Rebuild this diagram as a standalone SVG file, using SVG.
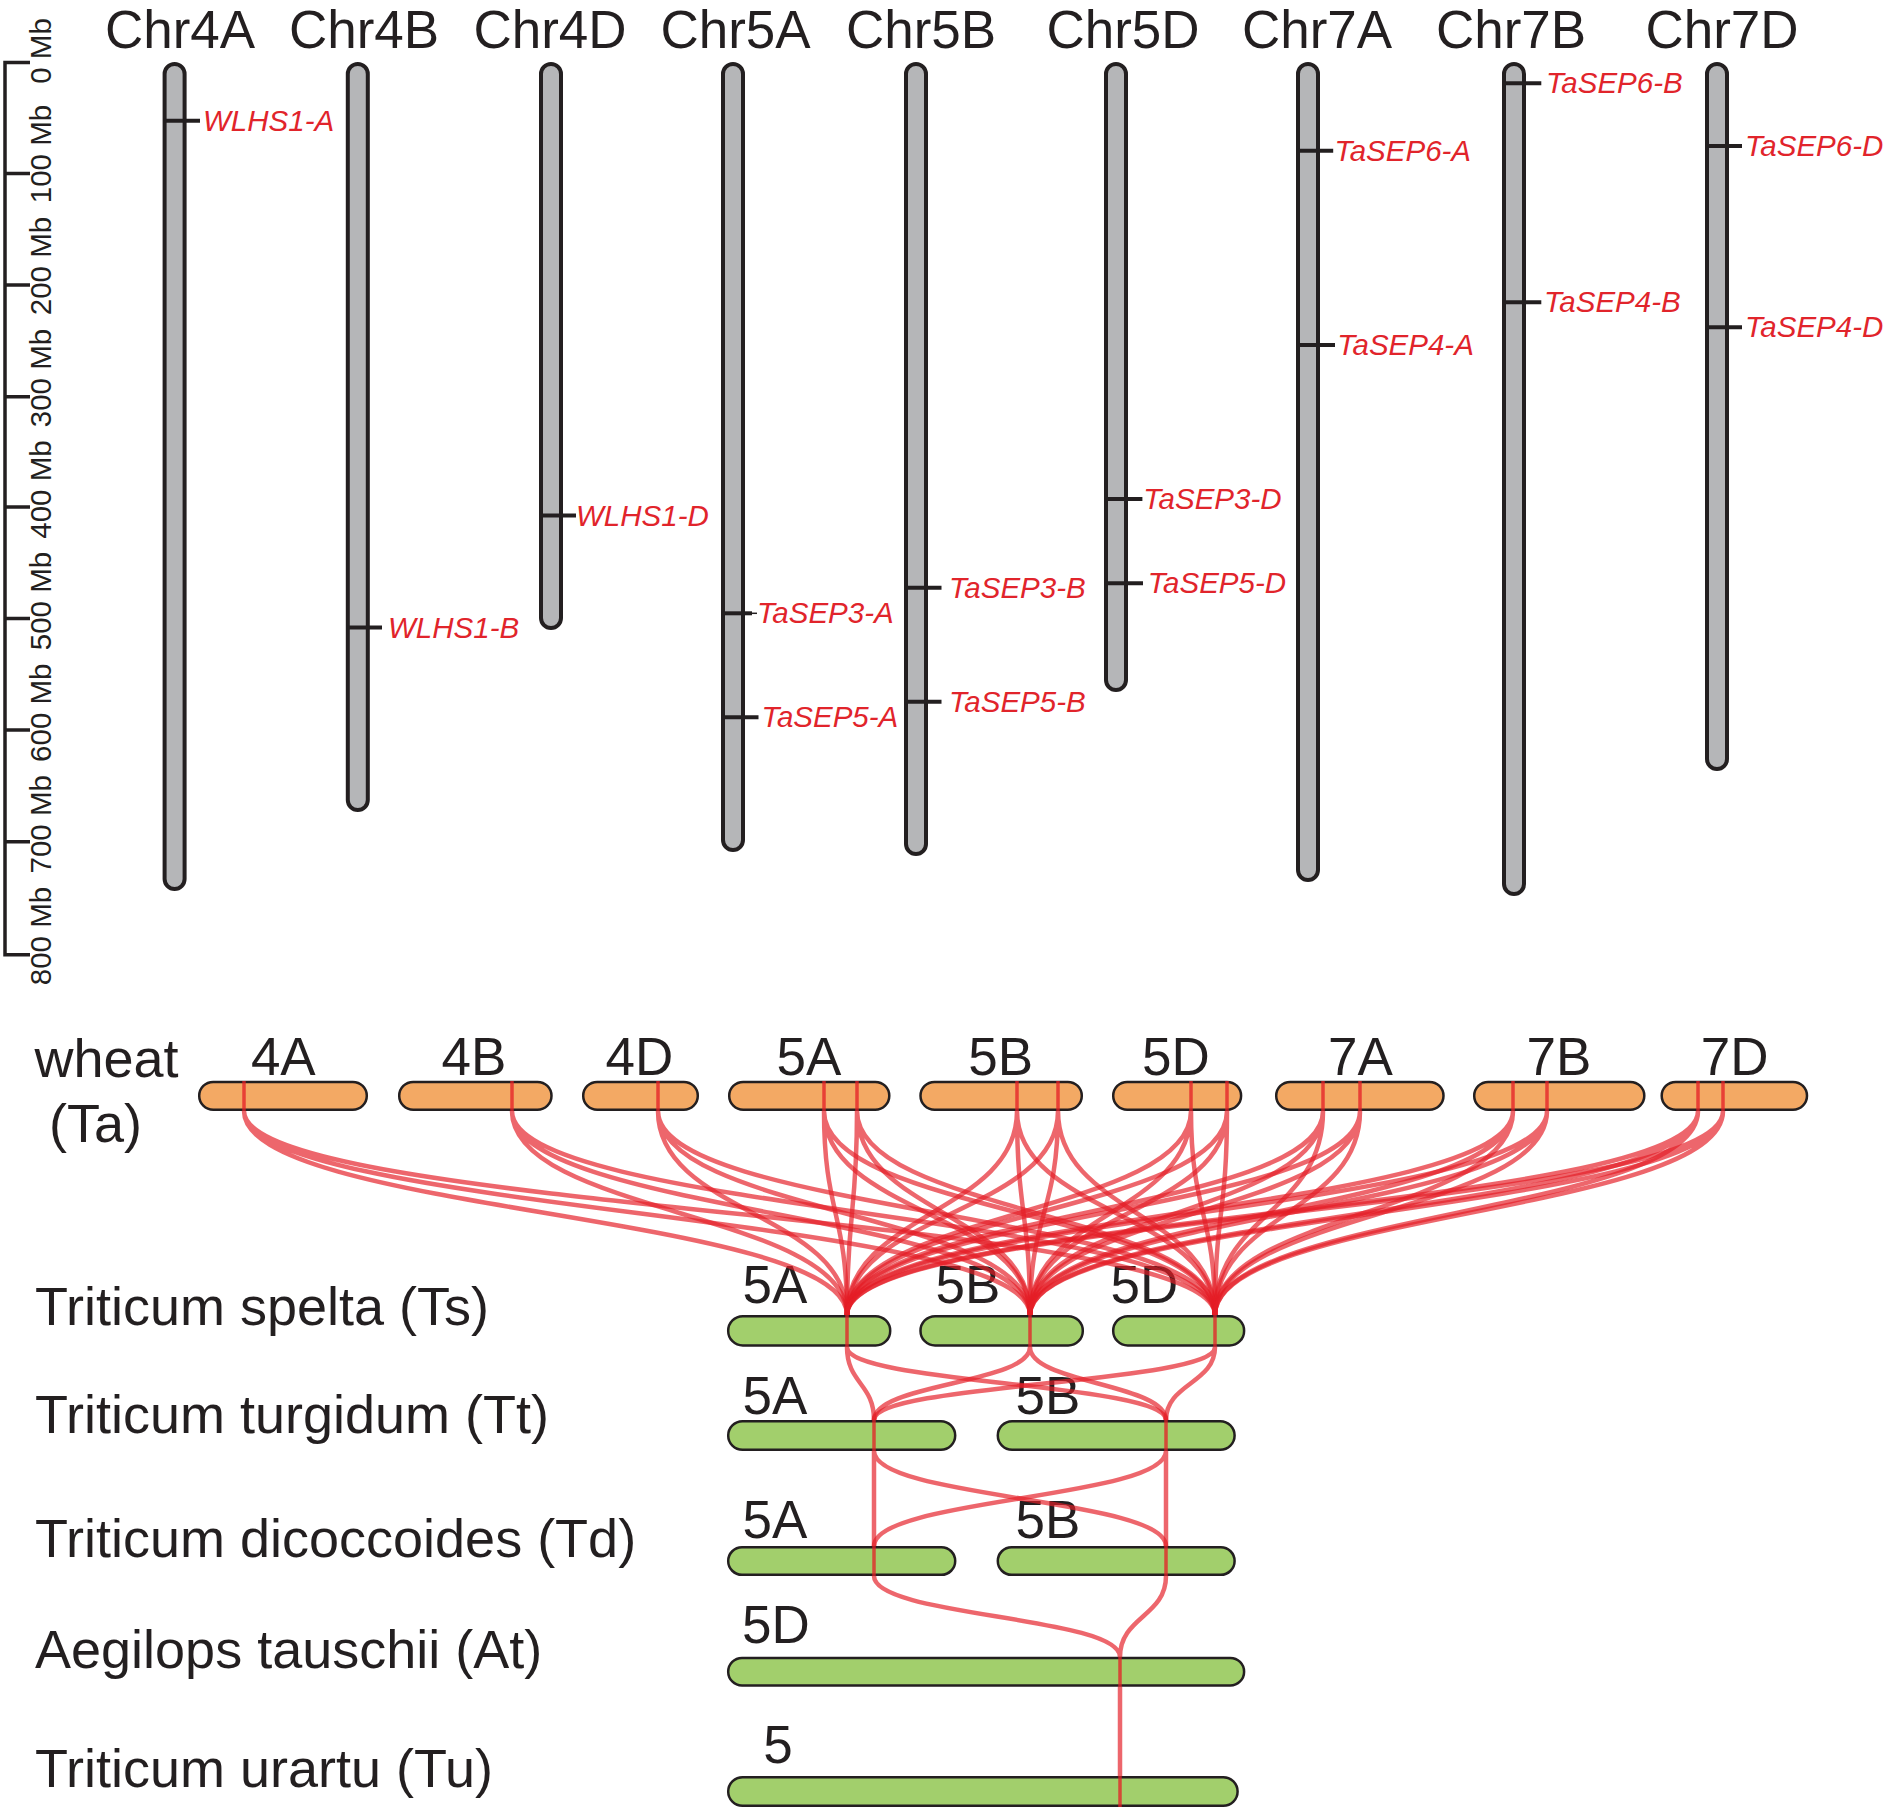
<svg xmlns="http://www.w3.org/2000/svg" width="1886" height="1812" viewBox="0 0 1886 1812">
<style>
text{font-family:"Liberation Sans",Arial,sans-serif;fill:#231f20}
.title{font-size:53px;text-anchor:middle}
.ax{font-size:29.5px;text-anchor:middle}
.gene{font-size:29.5px;font-style:italic;fill:#e1242b}
.sp{font-size:54px}
.lab{font-size:53px;text-anchor:middle}
.chr{fill:#b5b6b8;stroke:#231f20;stroke-width:4}
.tick{stroke:#231f20;stroke-width:4}
.axl{stroke:#231f20;stroke-width:3.5;fill:none}
.ta{fill:#f3a964;stroke:#231f20;stroke-width:2.5}
.gr{fill:#a2cf6c;stroke:#231f20;stroke-width:2.5}
.mk{stroke:#e41e26;stroke-opacity:0.75;stroke-width:3.5}
.lk{fill:none;stroke:#e41e26;stroke-opacity:0.68;stroke-width:4.5}
</style>

<g id="axis">
<path class="axl" d="M30 62.5H5V954.7H30M5 173.5H30M5 285H30M5 396.7H30M5 507H30M5 618.6H30M5 730H30M5 841.8H30"/>
<text class="ax" transform="translate(51 51) rotate(-90)">0 Mb</text>
<text class="ax" transform="translate(51 154) rotate(-90)">100 Mb</text>
<text class="ax" transform="translate(51 266) rotate(-90)">200 Mb</text>
<text class="ax" transform="translate(51 378) rotate(-90)">300 Mb</text>
<text class="ax" transform="translate(51 489.5) rotate(-90)">400 Mb</text>
<text class="ax" transform="translate(51 601) rotate(-90)">500 Mb</text>
<text class="ax" transform="translate(51 712.7) rotate(-90)">600 Mb</text>
<text class="ax" transform="translate(51 824.3) rotate(-90)">700 Mb</text>
<text class="ax" transform="translate(51 936) rotate(-90)">800 Mb</text>
</g>

<g id="Chr4A">
<text class="title" x="180" y="48">Chr4A</text>
<rect class="chr" x="164.6" y="64" width="20" height="825" rx="10"/>
<line class="tick" x1="164.6" y1="120.7" x2="200" y2="120.7"/>
<text class="gene" x="203" y="130.7">WLHS1-A</text>
</g>
<g id="Chr4B">
<text class="title" x="364" y="48">Chr4B</text>
<rect class="chr" x="347.8" y="64" width="20" height="746" rx="10"/>
<line class="tick" x1="347.8" y1="627.5" x2="382" y2="627.5"/>
<text class="gene" x="388" y="637.5">WLHS1-B</text>
</g>
<g id="Chr4D">
<text class="title" x="550" y="48">Chr4D</text>
<rect class="chr" x="541" y="64" width="20" height="564" rx="10"/>
<line class="tick" x1="541" y1="515.5" x2="576" y2="515.5"/>
<text class="gene" x="576" y="525.5">WLHS1-D</text>
</g>
<g id="Chr5A">
<text class="title" x="735.5" y="48">Chr5A</text>
<rect class="chr" x="723" y="64" width="20" height="786" rx="10"/>
<line class="tick" x1="723" y1="613.3" x2="752" y2="613.3"/>
<line x1="752" y1="613.3" x2="757" y2="613.3" stroke="#231f20" stroke-width="1.5"/>
<text class="gene" x="757" y="623.3">TaSEP3-A</text>
<line class="tick" x1="723" y1="717.3" x2="758.5" y2="717.3"/>
<text class="gene" x="761.6" y="727.3">TaSEP5-A</text>
</g>
<g id="Chr5B">
<text class="title" x="921" y="48">Chr5B</text>
<rect class="chr" x="906" y="64" width="20" height="790" rx="10"/>
<line class="tick" x1="906" y1="587.7" x2="941.5" y2="587.7"/>
<text class="gene" x="949" y="597.7">TaSEP3-B</text>
<line class="tick" x1="906" y1="701.7" x2="941.5" y2="701.7"/>
<text class="gene" x="949" y="711.7">TaSEP5-B</text>
</g>
<g id="Chr5D">
<text class="title" x="1123" y="48">Chr5D</text>
<rect class="chr" x="1106" y="64" width="20" height="626" rx="10"/>
<line class="tick" x1="1106" y1="499" x2="1142.4" y2="499"/>
<text class="gene" x="1143.3" y="509">TaSEP3-D</text>
<line class="tick" x1="1106" y1="583.3" x2="1143" y2="583.3"/>
<text class="gene" x="1147.8" y="593.3">TaSEP5-D</text>
</g>
<g id="Chr7A">
<text class="title" x="1317" y="48">Chr7A</text>
<rect class="chr" x="1298" y="64" width="20" height="816" rx="10"/>
<line class="tick" x1="1298" y1="150.7" x2="1333.2" y2="150.7"/>
<text class="gene" x="1334.4" y="160.7">TaSEP6-A</text>
<line class="tick" x1="1298" y1="345" x2="1335" y2="345"/>
<text class="gene" x="1337.2" y="355">TaSEP4-A</text>
</g>
<g id="Chr7B">
<text class="title" x="1511" y="48">Chr7B</text>
<rect class="chr" x="1504" y="64" width="20" height="830" rx="10"/>
<line class="tick" x1="1504" y1="83.3" x2="1541.3" y2="83.3"/>
<text class="gene" x="1546" y="93.3">TaSEP6-B</text>
<line class="tick" x1="1504" y1="302.3" x2="1541.3" y2="302.3"/>
<text class="gene" x="1544" y="312.3">TaSEP4-B</text>
</g>
<g id="Chr7D">
<text class="title" x="1722" y="48">Chr7D</text>
<rect class="chr" x="1707" y="64" width="20" height="705" rx="10"/>
<line class="tick" x1="1707" y1="146" x2="1742" y2="146"/>
<text class="gene" x="1745" y="156">TaSEP6-D</text>
<line class="tick" x1="1707" y1="327.3" x2="1742" y2="327.3"/>
<text class="gene" x="1745" y="337.3">TaSEP4-D</text>
</g>

<g id="species-labels">
<text class="sp" x="34.5" y="1077">wheat</text>
<text class="sp" x="49" y="1142">(Ta)</text>
<text class="sp" x="35" y="1325">Triticum spelta (Ts)</text>
<text class="sp" x="35" y="1432.7">Triticum turgidum (Tt)</text>
<text class="sp" x="35" y="1557.3">Triticum dicoccoides (Td)</text>
<text class="sp" x="35" y="1668.3">Aegilops tauschii (At)</text>
<text class="sp" x="35" y="1787.3">Triticum urartu (Tu)</text>
</g>

<g id="Ta-4A"><text class="lab" x="283.3" y="1075">4A</text><rect class="ta" x="199.2" y="1081.9" width="167.6" height="27.9" rx="14"/></g>
<g id="Ta-4B"><text class="lab" x="474" y="1075">4B</text><rect class="ta" x="399.2" y="1081.9" width="152.3" height="27.9" rx="14"/></g>
<g id="Ta-4D"><text class="lab" x="639.5" y="1075">4D</text><rect class="ta" x="583.2" y="1081.9" width="114.6" height="27.9" rx="14"/></g>
<g id="Ta-5A"><text class="lab" x="809" y="1075">5A</text><rect class="ta" x="729.2" y="1081.9" width="160.1" height="27.9" rx="14"/></g>
<g id="Ta-5B"><text class="lab" x="1000.6" y="1075">5B</text><rect class="ta" x="920.5" y="1081.9" width="161.3" height="27.9" rx="14"/></g>
<g id="Ta-5D"><text class="lab" x="1176" y="1075">5D</text><rect class="ta" x="1113.2" y="1081.9" width="127.9" height="27.9" rx="14"/></g>
<g id="Ta-7A"><text class="lab" x="1360.5" y="1075">7A</text><rect class="ta" x="1276.2" y="1081.9" width="167.3" height="27.9" rx="14"/></g>
<g id="Ta-7B"><text class="lab" x="1559" y="1075">7B</text><rect class="ta" x="1474.2" y="1081.9" width="170.1" height="27.9" rx="14"/></g>
<g id="Ta-7D"><text class="lab" x="1734.6" y="1075">7D</text><rect class="ta" x="1661.7" y="1081.9" width="145.3" height="27.9" rx="14"/></g>

<g id="Ts-5A"><text class="lab" x="775" y="1303.3">5A</text><rect class="gr" x="728.2" y="1316.2" width="162" height="29.3" rx="14.6"/></g>
<g id="Ts-5B"><text class="lab" x="968" y="1303.3">5B</text><rect class="gr" x="920.5" y="1316.2" width="162.3" height="29.3" rx="14.6"/></g>
<g id="Ts-5D"><text class="lab" x="1144.5" y="1303.3">5D</text><rect class="gr" x="1113.2" y="1316.2" width="130.9" height="29.3" rx="14.6"/></g>

<g id="Tt-5A"><text class="lab" x="775" y="1414">5A</text><rect class="gr" x="728.2" y="1421.2" width="227" height="28.6" rx="14.3"/></g>
<g id="Tt-5B"><text class="lab" x="1048" y="1414">5B</text><rect class="gr" x="997.8" y="1421.2" width="236.8" height="28.6" rx="14.3"/></g>

<g id="Td-5A"><text class="lab" x="775" y="1538">5A</text><rect class="gr" x="728.2" y="1547.2" width="227" height="27.6" rx="13.8"/></g>
<g id="Td-5B"><text class="lab" x="1048" y="1538">5B</text><rect class="gr" x="997.8" y="1547.2" width="236.8" height="27.6" rx="13.8"/></g>

<g id="At-5D"><text class="lab" x="776" y="1642.7">5D</text><rect class="gr" x="728.2" y="1657.9" width="515.9" height="27.6" rx="13.8"/></g>

<g id="Tu-5"><text class="lab" x="778" y="1763.3">5</text><rect class="gr" x="728.2" y="1777.2" width="509.4" height="28.6" rx="14.3"/></g>

<g id="connectors">
<path class="lk" d="M244 1111C244 1213 847 1213 847 1315M244 1111C244 1213 1030 1213 1030 1315M244 1111C244 1213 1215 1213 1215 1315"/>
<path class="lk" d="M512 1111C512 1213 847 1213 847 1315M512 1111C512 1213 1030 1213 1030 1315M512 1111C512 1213 1215 1213 1215 1315"/>
<path class="lk" d="M658 1111C658 1213 847 1213 847 1315M658 1111C658 1213 1030 1213 1030 1315M658 1111C658 1213 1215 1213 1215 1315"/>
<path class="lk" d="M824 1111C824 1213 847 1213 847 1315M824 1111C824 1213 1030 1213 1030 1315M824 1111C824 1213 1215 1213 1215 1315"/>
<path class="lk" d="M857 1111C857 1213 847 1213 847 1315M857 1111C857 1213 1030 1213 1030 1315M857 1111C857 1213 1215 1213 1215 1315"/>
<path class="lk" d="M1017 1111C1017 1213 847 1213 847 1315M1017 1111C1017 1213 1030 1213 1030 1315M1017 1111C1017 1213 1215 1213 1215 1315"/>
<path class="lk" d="M1058 1111C1058 1213 847 1213 847 1315M1058 1111C1058 1213 1030 1213 1030 1315M1058 1111C1058 1213 1215 1213 1215 1315"/>
<path class="lk" d="M1191 1111C1191 1213 847 1213 847 1315M1191 1111C1191 1213 1030 1213 1030 1315M1191 1111C1191 1213 1215 1213 1215 1315"/>
<path class="lk" d="M1227 1111C1227 1213 847 1213 847 1315M1227 1111C1227 1213 1030 1213 1030 1315M1227 1111C1227 1213 1215 1213 1215 1315"/>
<path class="lk" d="M1323 1111C1323 1213 847 1213 847 1315M1323 1111C1323 1213 1030 1213 1030 1315M1323 1111C1323 1213 1215 1213 1215 1315"/>
<path class="lk" d="M1360 1111C1360 1213 847 1213 847 1315M1360 1111C1360 1213 1030 1213 1030 1315M1360 1111C1360 1213 1215 1213 1215 1315"/>
<path class="lk" d="M1513 1111C1513 1213 847 1213 847 1315M1513 1111C1513 1213 1030 1213 1030 1315M1513 1111C1513 1213 1215 1213 1215 1315"/>
<path class="lk" d="M1547 1111C1547 1213 847 1213 847 1315M1547 1111C1547 1213 1030 1213 1030 1315M1547 1111C1547 1213 1215 1213 1215 1315"/>
<path class="lk" d="M1698 1111C1698 1213 847 1213 847 1315M1698 1111C1698 1213 1030 1213 1030 1315M1698 1111C1698 1213 1215 1213 1215 1315"/>
<path class="lk" d="M1723 1111C1723 1213 847 1213 847 1315M1723 1111C1723 1213 1030 1213 1030 1315M1723 1111C1723 1213 1215 1213 1215 1315"/>
<path class="lk" d="M847 1347C847 1383.5 874 1383.5 874 1420M847 1347C847 1383.5 1166 1383.5 1166 1420"/>
<path class="lk" d="M1030 1347C1030 1383.5 874 1383.5 874 1420M1030 1347C1030 1383.5 1166 1383.5 1166 1420"/>
<path class="lk" d="M1215 1347C1215 1383.5 874 1383.5 874 1420M1215 1347C1215 1383.5 1166 1383.5 1166 1420"/>
<path class="lk" d="M874 1451V1546M874 1451C874 1498.5 1166 1498.5 1166 1546"/>
<path class="lk" d="M1166 1451V1546M1166 1451C1166 1498.5 874 1498.5 874 1546"/>
<path class="lk" d="M874 1576C874 1616.5 1120 1616.5 1120 1657M1166 1576C1166 1616.5 1120 1616.5 1120 1657"/>
<path class="lk" d="M1120 1687V1776"/>
<path class="mk" d="M244 1081V1111M512 1081V1111M658 1081V1111M824 1081V1111M857 1081V1111M1017 1081V1111M1058 1081V1111M1191 1081V1111M1227 1081V1111M1323 1081V1111M1360 1081V1111M1513 1081V1111M1547 1081V1111M1698 1081V1111M1723 1081V1111"/>
<path class="mk" d="M847 1315V1347M1030 1315V1347M1215 1315V1347M874 1420V1451M1166 1420V1451M874 1546V1576M1166 1546V1576M1120 1657V1687M1120 1776V1807"/>
</g>
</svg>
